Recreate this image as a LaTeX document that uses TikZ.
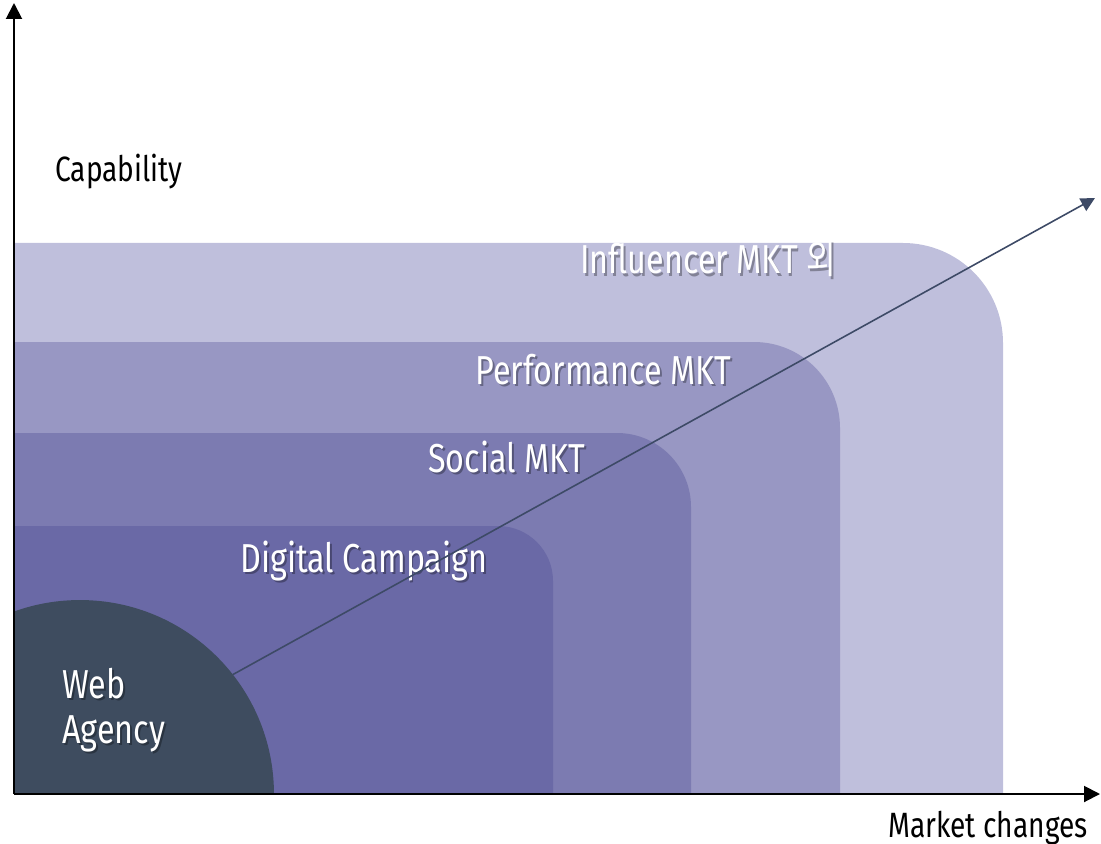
\documentclass[tikz,border=0pt]{standalone}
\usepackage{fontspec}
\setmainfont{Fira Sans}[FakeStretch=0.8]
\newfontfamily\kofont{Noto Sans CJK KR}[FakeStretch=0.8]
\usetikzlibrary{arrows.meta}

\definecolor{cinflu}{HTML}{BFBFDC}
\definecolor{cperfo}{HTML}{9897C3}
\definecolor{csocia}{HTML}{7C7BB1}
\definecolor{cdigit}{HTML}{6A69A6}
\definecolor{cwebag}{HTML}{3E4C5F}
\definecolor{cseta}{HTML}{3D4A66}

\newcommand{\sombra}[2]{\makebox[0pt][l]{\hspace{1.1pt}\raisebox{-1.5pt}{\textcolor{#1}{#2}}}#2}

\tikzstyle{eixo} = [draw, -{Triangle[length=3.2mm, width=3.2mm]}, line width=1.1pt]
\tikzstyle{seta} = [draw, -{Triangle[length=2.8mm, width=2.8mm]}, line width=0.9pt, cseta]
\tikzstyle{rotulo} = [text=white, font=\fontsize{23}{25.5}\selectfont, inner sep=0pt, anchor=base west]
\tikzstyle{titulo} = [text=black, font=\fontsize{20}{24}\selectfont, inner sep=0pt, anchor=base west]

\begin{document}
\begin{tikzpicture}[x=0.02cm, y=-0.02cm]
\useasboundingbox (0,0) rectangle (1101,844);
% camadas
\fill[cinflu] (14,794) -- (14,243) -- (903,243) arc[start angle=-90, end angle=0, radius=100] -- (1003,794) -- cycle;
\fill[cperfo] (14,794) -- (14,342) -- (754,342) arc[start angle=-90, end angle=0, radius=86] -- (840,794) -- cycle;
\fill[csocia] (14,794) -- (14,433) -- (617,433) arc[start angle=-90, end angle=0, radius=74] -- (691,794) -- cycle;
\fill[cdigit] (14,794) -- (14,526) -- (498,526) arc[start angle=-90, end angle=0, radius=55] -- (553,794) -- cycle;
% web agency
\begin{scope}
\clip (14,0) rectangle (1101,794);
\node [circle, fill=cwebag, minimum size=7.76cm, inner sep=0pt, outer sep=0pt] (webag) at (80,794) {};
\end{scope}
% rotulos
\node [rotulo] (influ) at (580,274) {\sombra{cinflu!68!black}{Influencer MKT {\kofont 외}}};
\node [rotulo] (perfo) at (475,384) {\sombra{cperfo!68!black}{Performance MKT}};
\node [rotulo] (socia) at (428,472) {\sombra{csocia!68!black}{Social MKT}};
\node [rotulo] (digit) at (240,572) {\sombra{cdigit!68!black}{Digital Campaign}};
\node [rotulo, align=left] (webtx) at (62,743) {\sombra{cwebag!68!black}{Web}\\\sombra{cwebag!68!black}{Agency}};
% eixos
\coordinate (orig) at (14,794);
\coordinate (topo) at (14,3);
\coordinate (fimx) at (1100,794);
\coordinate (alvo) at (1095,198);
\path [eixo] (orig) -- (topo);
\path [eixo] (orig) -- (fimx);
\node [titulo] (capab) at (55,182) {Capability};
\node [titulo] (merca) at (888,837) {Market changes};
%seta
\path [seta] (webag.38) -- (alvo);
\end{tikzpicture}
\end{document}
